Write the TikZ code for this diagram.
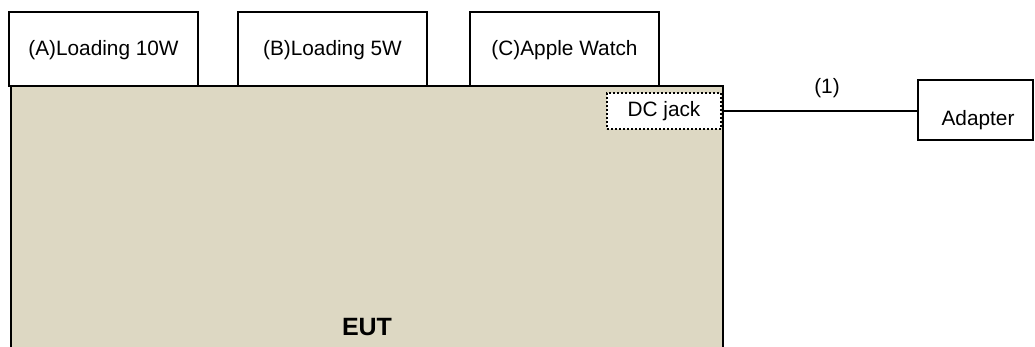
\documentclass[tikz,border=0pt]{standalone}
\usepackage{fontspec}
\setmainfont{Liberation Sans}
\definecolor{eutfill}{HTML}{DDD8C3}
\begin{document}
\begin{tikzpicture}[x=1pt,y=-1pt,
  box/.style={draw=black,line width=2pt,fill=white,inner sep=0pt},
  lbl/.style={font=\fontsize{20.8}{24}\selectfont,inner sep=0pt}]
\useasboundingbox (0,0) rectangle (1035,347);
% EUT body (open at the bottom)
\fill[eutfill] (11,86) rectangle (723,350);
\draw[line width=2pt] (11,350) -- (11,86) -- (723,86) -- (723,350);
\node[inner sep=0pt,font=\fontsize{25}{28}\selectfont\bfseries] (eut) at (367,327) {EUT};
% top boxes
\node[box,minimum width=189pt,minimum height=74pt] (a) at (103.5,49) {};
\node[lbl] at ([yshift=-1.5pt]a.center) {(A)Loading 10W};
\node[box,minimum width=189pt,minimum height=74pt] (b) at (332.5,49) {};
\node[lbl] at ([yshift=-1.5pt]b.center) {(B)Loading 5W};
\node[box,minimum width=189pt,minimum height=74pt] (c) at (564.5,49) {};
\node[lbl] at ([yshift=-1.5pt]c.center) {(C)Apple Watch};
% DC jack
\node[draw=black,line width=2pt,dotted,fill=white,minimum width=114pt,minimum height=36pt,inner sep=0pt] (dc) at (664,111) {};
\node[lbl] at (dc.center) {DC jack};
% Adapter
\node[box,minimum width=115pt,minimum height=60pt] (ad) at (975.5,110) {};
\node[lbl] at (978,120) {Adapter};
% cable
\draw[line width=2pt] (dc.east) -- (dc.east -| ad.west);
\node[lbl] (one) at (827,88) {(1)};
\end{tikzpicture}
\end{document}
